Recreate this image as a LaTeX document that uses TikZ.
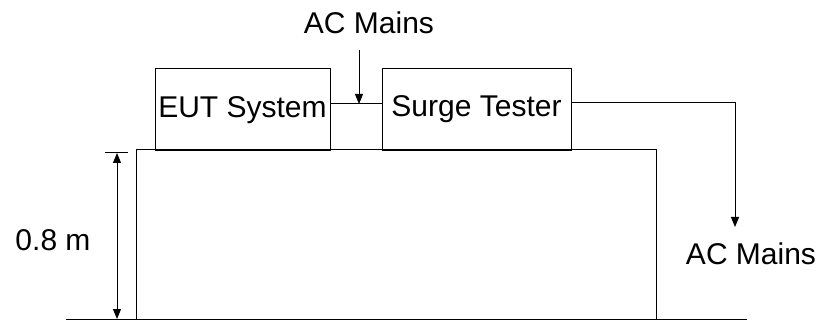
\documentclass[tikz,border=0pt]{standalone}
\usepackage{fontspec}
\setmainfont{Liberation Sans}
\usetikzlibrary{arrows.meta, positioning}

\begin{document}
\begin{tikzpicture}[
        x=0.5pt, y=-0.5pt,
        box/.style={rectangle, draw, line width=0.5pt, minimum height=41pt, inner sep=0pt, font=\fontsize{15}{18}\selectfont},
        lbl/.style={inner sep=0pt, font=\fontsize{15}{18}\selectfont},
        arrow/.style={-{Triangle[length=5pt, width=4pt]}, line width=0.5pt}
    ]
        \useasboundingbox (0,0) rectangle (824,320);

        % table and floor
        \node[draw, line width=0.5pt, minimum width=260pt, minimum height=85pt, inner sep=0pt] (table) at (396,235) {};
        \coordinate (floorL) at (66,319);
        \coordinate (floorR) at (747,319);
        \draw[line width=0.5pt] (floorL) -- (floorR);

        % equipment on the table
        \node[box, minimum width=87.5pt] (eut) at (242.5,110) {EUT System};
        \node[box, minimum width=94.5pt] (surge) at (476.5,109.5) {Surge Tester};
        \draw[line width=0.5pt] ([yshift=3pt]eut.east) -- ([yshift=3pt]eut.east -| surge.west);

        % mains inputs
        \node[lbl] (mainsTop) at (369,23) {AC Mains};
        \node[lbl] (mainsRight) at (751,254) {AC Mains};
        \coordinate (tap) at (359,104);
        \coordinate (drop) at (735,227);
        \draw[arrow] (tap |- 0,50) -- (tap);
        \draw[arrow] ([yshift=3.5pt]surge.east) -| (drop);

        % height of the table
        \coordinate (dimTop) at (117,153);
        \coordinate (dimBot) at (117,319);
        \draw[line width=0.5pt] (105,153) -- (128,153);
        \draw[{Triangle[length=5pt, width=4pt]}-{Triangle[length=5pt, width=4pt]}, line width=0.5pt] (dimTop) -- (dimBot);
        \node[lbl] (height) at (53,240) {0.8 m};

    \end{tikzpicture}
\end{document}
